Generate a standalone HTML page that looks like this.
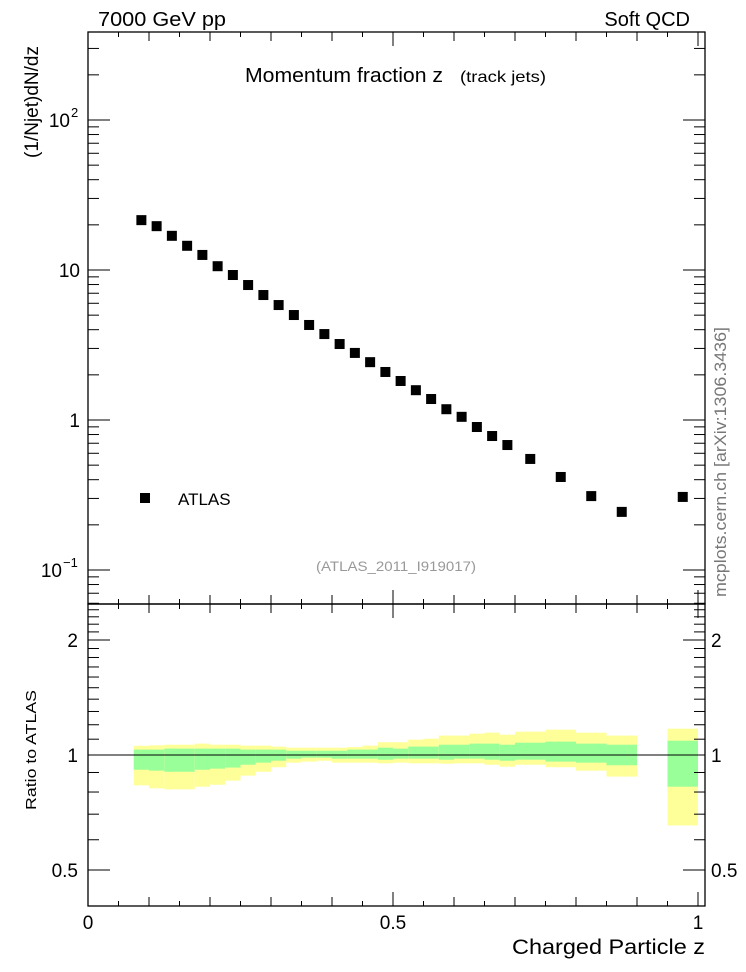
<!DOCTYPE html>
<html><head><meta charset="utf-8"><style>
html,body{margin:0;padding:0;background:#fff;}
svg{display:block;font-family:"Liberation Sans",Arial,sans-serif;}
</style></head><body>
<svg id="chart" width="746" height="972" viewBox="0 0 746 972" xmlns="http://www.w3.org/2000/svg">
<rect width="746" height="972" fill="#fff"/>
<g id="ratioBands"></g>
<g id="points"></g>
<g id="axes"></g>
<text x="98" y="26" font-size="20" textLength="128" lengthAdjust="spacingAndGlyphs">7000 GeV pp</text>
<text x="690" y="26" font-size="20" text-anchor="end">Soft QCD</text>
<text x="245" y="82" font-size="20" textLength="198" lengthAdjust="spacingAndGlyphs">Momentum fraction z</text>
<text x="460" y="82" font-size="16" textLength="86" lengthAdjust="spacingAndGlyphs">(track jets)</text>
<text transform="translate(38,102) rotate(-90)" font-size="19" text-anchor="middle">(1/Njet)dN/dz</text>
<rect x="140" y="493" width="10" height="10" fill="#000"/>
<text x="178" y="505" font-size="17">ATLAS</text>
<text x="396" y="571" font-size="14" fill="#999" text-anchor="middle" textLength="160" lengthAdjust="spacingAndGlyphs">(ATLAS_2011_I919017)</text>
<text transform="translate(726,462) rotate(-90)" font-size="17" fill="#777" text-anchor="middle" textLength="270" lengthAdjust="spacingAndGlyphs">mcplots.cern.ch [arXiv:1306.3436]</text>
<text transform="translate(36,750) rotate(-90)" font-size="15" text-anchor="middle" textLength="120" lengthAdjust="spacingAndGlyphs">Ratio to ATLAS</text>
<text x="705" y="954" font-size="21" text-anchor="end" textLength="193" lengthAdjust="spacingAndGlyphs">Charged Particle z</text>
</svg>
<script>
const binEdgesLo = [0.075,0.1,0.125,0.15,0.175,0.2,0.225,0.25,0.275,0.3,0.325,0.35,0.375,0.4,0.425,0.45,0.475,0.5,0.525,0.55,0.575,0.6,0.625,0.65,0.675,0.7,0.75,0.8,0.85,0.95];
const binEdgesHi = [0.1,0.125,0.15,0.175,0.2,0.225,0.25,0.275,0.3,0.325,0.35,0.375,0.4,0.425,0.45,0.475,0.5,0.525,0.55,0.575,0.6,0.625,0.65,0.675,0.7,0.75,0.8,0.85,0.9,1.0];
const atlasValues = [21.5,19.6,16.9,14.5,12.6,10.6,9.26,7.94,6.81,5.84,5.01,4.30,3.74,3.21,2.80,2.43,2.09,1.82,1.58,1.38,1.18,1.05,0.898,0.782,0.681,0.55,0.417,0.311,0.244,0.307];
const yellowUp = [1.057,1.060,1.064,1.064,1.071,1.064,1.064,1.058,1.058,1.052,1.045,1.045,1.045,1.045,1.049,1.058,1.080,1.080,1.097,1.103,1.124,1.124,1.137,1.144,1.130,1.151,1.165,1.144,1.124,1.172];
const greenUp = [1.033,1.033,1.039,1.039,1.039,1.039,1.039,1.033,1.033,1.033,1.026,1.026,1.026,1.026,1.033,1.033,1.045,1.039,1.052,1.052,1.064,1.064,1.071,1.071,1.064,1.077,1.084,1.071,1.064,1.090];
const greenLo = [0.915,0.910,0.904,0.904,0.915,0.921,0.927,0.943,0.955,0.966,0.978,0.984,0.984,0.978,0.978,0.978,0.972,0.978,0.978,0.978,0.972,0.978,0.978,0.972,0.966,0.972,0.961,0.955,0.940,0.826];
const yellowLo = [0.833,0.818,0.813,0.813,0.826,0.836,0.857,0.883,0.904,0.929,0.955,0.961,0.966,0.955,0.955,0.955,0.951,0.955,0.951,0.951,0.949,0.951,0.951,0.943,0.932,0.943,0.929,0.910,0.878,0.654];
const xTickMajor = [0,0.5,1];
const yMainTickBase = ["10","1","10","10"];
const yMainTickExp = ["\u22121","","","2"];
const ratioTickLabels = ["0.5","1","2"];

const NS="http://www.w3.org/2000/svg";
const L=88,R=705,T=32,MB=604,RB=906;
function xs(z){return 88+z*610;}
function ym(v){return 420-150*Math.log10(v);}
function yr(v){return 755-115*Math.log2(v);}
function mk(tag,attrs,parent){const e=document.createElementNS(NS,tag);for(const k in attrs)e.setAttribute(k,attrs[k]);parent.appendChild(e);return e;}

const bands=document.getElementById('ratioBands');
for(let i=0;i<binEdgesLo.length;i++){
  const x0=xs(binEdgesLo[i]),x1=xs(binEdgesHi[i]);
  const yb=mk('rect',{x:x0,y:yr(yellowUp[i]),width:x1-x0,height:yr(yellowLo[i])-yr(yellowUp[i]),fill:'#ffff99'},bands);
  
  
  const gb=mk('rect',{x:x0,y:yr(greenUp[i]),width:x1-x0,height:yr(greenLo[i])-yr(greenUp[i]),fill:'#99ff99'},bands);
  
  
}
const pts=document.getElementById('points');
for(let i=0;i<atlasValues.length;i++){
  const cx=xs((binEdgesLo[i]+binEdgesHi[i])/2),cy=ym(atlasValues[i]);
  const p=mk('rect',{x:cx-5,y:cy-5,width:10,height:10,fill:'#000'},pts);
  
  
}
const ax=document.getElementById('axes');
const ln=(x1,y1,x2,y2,w)=>mk('line',{x1,y1,x2,y2,stroke:'#000','stroke-width':w||1},ax);
const ul=ln(L,yr(1),R,yr(1),1);


mk('rect',{x:L,y:T,width:R-L,height:MB-T,fill:'none',stroke:'#000','stroke-width':1.3},ax);
mk('rect',{x:L,y:MB,width:R-L,height:RB-MB,fill:'none',stroke:'#000','stroke-width':1.3},ax);
for(let k=1;k<=20;k++){
  const z=k*0.05,x=xs(z);if(x>R)break;
  const len=(k%10===0)?14:(k%2===0?9:5);
  ln(x,T,x,T+len);ln(x,MB,x,MB-len);ln(x,MB,x,MB+len);ln(x,RB,x,RB-len);
}
xTickMajor.forEach(z=>{
  const t=mk('text',{x:xs(z),y:929,'font-size':19,'text-anchor':'middle'},ax);
  t.textContent=String(z);
  
  
});
for(let d=-2;d<=2;d++){
  for(let m=1;m<=9;m++){
    const v=m*Math.pow(10,d),y=ym(v);
    if(y<T||y>MB)continue;
    const len=m===1?22:11;
    ln(L,y,L+len,y);ln(R,y,R-len,y);
  }
}
[0.1,1,10,100].forEach((v,i)=>{
  const hasExp=yMainTickExp[i]!=="";
  const t=mk('text',{x:hasExp?(yMainTickExp[i].length>1?62:70):80,y:ym(v)+7,'font-size':19,'text-anchor':'end'},ax);
  t.textContent=yMainTickBase[i];
  
  
  if(hasExp){
    const s=mk('text',{x:hasExp?(yMainTickExp[i].length>1?63:71):80,y:ym(v)-3,'font-size':13},ax);
    s.textContent=yMainTickExp[i];
    
    
  }
});
for(let k=5;k<=25;k++){
  const v=k/10,y=yr(v);
  if(y<MB||y>RB)continue;
  const len=(k===5||k===10||k===20)?22:11;
  ln(L,y,L+len,y);ln(R,y,R-len,y);
}
[0.5,1,2].forEach((v,i)=>{
  const t1=mk('text',{x:78,y:yr(v)+7,'font-size':19,'text-anchor':'end'},ax);
  t1.textContent=ratioTickLabels[i];
  
  
  const t2=mk('text',{x:711,y:yr(v)+7,'font-size':19},ax);
  t2.textContent=ratioTickLabels[i];
  
  
});
</script>
</body></html>
